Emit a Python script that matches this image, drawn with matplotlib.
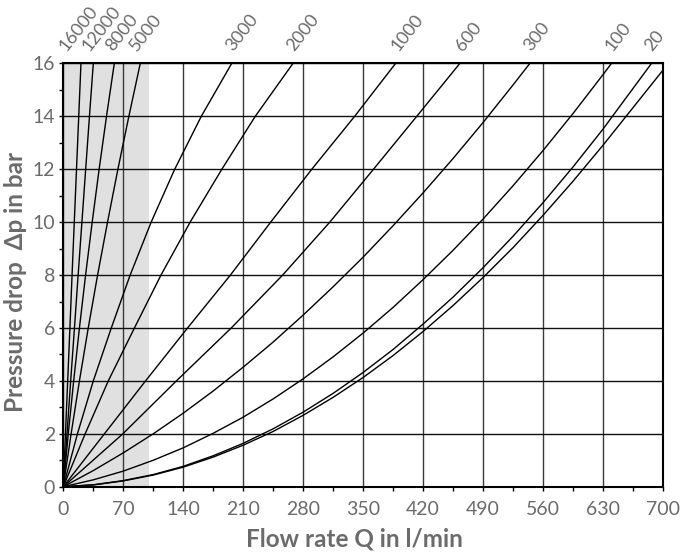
import matplotlib
matplotlib.use("Agg")
import matplotlib.pyplot as plt
from matplotlib.ticker import MultipleLocator

# viscosity labels (top of chart)
labels = ["16000", "12000", "8000", "5000", "3000", "2000", "1000", "600", "300", "100", "20"]

# pressure drop points (bar) used for the high viscosity curves
p_grid = [0, 2, 4, 6, 8, 10, 12, 14, 16]

# flow rate (l/min) read at each pressure of p_grid
q_16000 = [0, 2.5, 5.1, 7.7, 10.2, 12.8, 15.4, 18, 20.6]
q_12000 = [0, 4.3, 8.6, 13, 17.3, 21.7, 26.1, 30.5, 35]
q_8000 = [0, 5.8, 12.1, 18.8, 26, 33.7, 41.8, 50.4, 59.5]
q_5000 = [0, 9.1, 18.8, 29.1, 40, 51.6, 63.7, 76.5, 89.8]
q_3000 = [0, 16.5, 35, 56, 78, 102.5, 130, 161, 196.5]
q_2000 = [0, 25.5, 52.5, 83, 114, 148, 185, 224, 268]
q_1000 = [0, 48, 96, 145, 195, 242, 290, 340, 387.8]
q_600 = [0, 69.5, 132, 196, 256, 311, 362, 412.5, 462.8]

# low viscosity curves: pressure (bar) read at each flow step
q_steps = [0, 35, 70, 105, 140, 175, 210, 245, 280, 315, 350, 385, 420,
           455, 490, 525, 560, 595, 630]
p_300 = [0, 0.61, 1.28, 2.0, 2.78, 3.62, 4.52, 5.47, 6.49, 7.56, 8.68,
         9.87, 11.11, 12.41, 13.77, 15.19]
p_100 = [0, 0.26, 0.59, 1.0, 1.47, 2.02, 2.63, 3.32, 4.08, 4.91, 5.81,
         6.78, 7.83, 8.94, 10.12, 11.38, 12.71, 14.11, 15.58]
p_20 = [0, 0.07, 0.23, 0.46, 0.77, 1.17, 1.64, 2.19, 2.82, 3.53, 4.32,
        5.19, 6.15, 7.17, 8.28, 9.47, 10.74, 12.09, 13.52]
p_10 = [0, 0.07, 0.22, 0.44, 0.74, 1.12, 1.57, 2.09, 2.70, 3.38, 4.13,
        4.96, 5.87, 6.85, 7.91, 9.04, 10.26, 11.55, 12.91]
# end points of the low viscosity curves (flow, pressure)
end_300 = (544.5, 16)
end_100 = (639.8, 16)
end_20 = (686.5, 16)
end_10 = (700, 15.75)

# where the rotated labels start (l/min)
label_x = [4, 31, 58, 86, 198, 269, 391, 466, 546, 641, 687]

plt.rcParams["font.family"] = ["Lato", "DejaVu Sans"]
grey = "#6b6b6b"

fig = plt.figure(figsize=(6.83, 5.57), dpi=100)
ax = fig.add_axes([0.0927, 0.1262, 0.878, 0.7598])

# shaded area
ax.axvspan(0, 100, color="#e0e0e0", lw=0, zorder=0)

curves = [
    (q_16000, p_grid), (q_12000, p_grid), (q_8000, p_grid), (q_5000, p_grid),
    (q_3000, p_grid), (q_2000, p_grid), (q_1000, p_grid), (q_600, p_grid),
]
for p, end in [(p_300, end_300), (p_100, end_100), (p_20, end_20), (p_10, end_10)]:
    q = q_steps[:len(p)] + [end[0]]
    curves.append((q, p + [end[1]]))

for q, p in curves:
    ax.plot(q, p, color="black", lw=1.0, solid_joinstyle="round", zorder=3)

for lab, x in zip(labels, label_x):
    ax.annotate(lab, xy=(x, 16), xytext=(0, 8), textcoords="offset points",
                rotation=52, rotation_mode="anchor", ha="left", va="baseline",
                fontsize=13, color=grey, annotation_clip=False)

ax.set_xlim(0, 700)
ax.set_ylim(0, 16)
ax.xaxis.set_major_locator(MultipleLocator(70))
ax.xaxis.set_minor_locator(MultipleLocator(35))
ax.yaxis.set_major_locator(MultipleLocator(2))
ax.yaxis.set_minor_locator(MultipleLocator(1))
ax.grid(True, which="major", axis="y", color="#111111", lw=1.0, zorder=1)
ax.grid(True, which="major", axis="x", color="#3a3a3a", lw=1.0, zorder=1)
ax.set_axisbelow(True)

ax.tick_params(which="both", direction="out", length=3, width=1, color="black",
               labelsize=14, labelcolor=grey)
ax.tick_params(axis="x", pad=7)
ax.tick_params(axis="y", pad=3)
for s in ax.spines.values():
    s.set_color("black")
    s.set_linewidth(1.5)

ax.set_xlabel("Flow rate Q in l/min", fontsize=17.5, fontweight="bold", color=grey,
              labelpad=7)
ax.set_ylabel("Pressure drop  \u0394p in bar", fontsize=17.5, fontweight="bold",
              color=grey, labelpad=4)
ax.xaxis.label.set_x(0.485)
ax.yaxis.label.set_y(0.485)

fig.savefig("out.png", dpi=100)
